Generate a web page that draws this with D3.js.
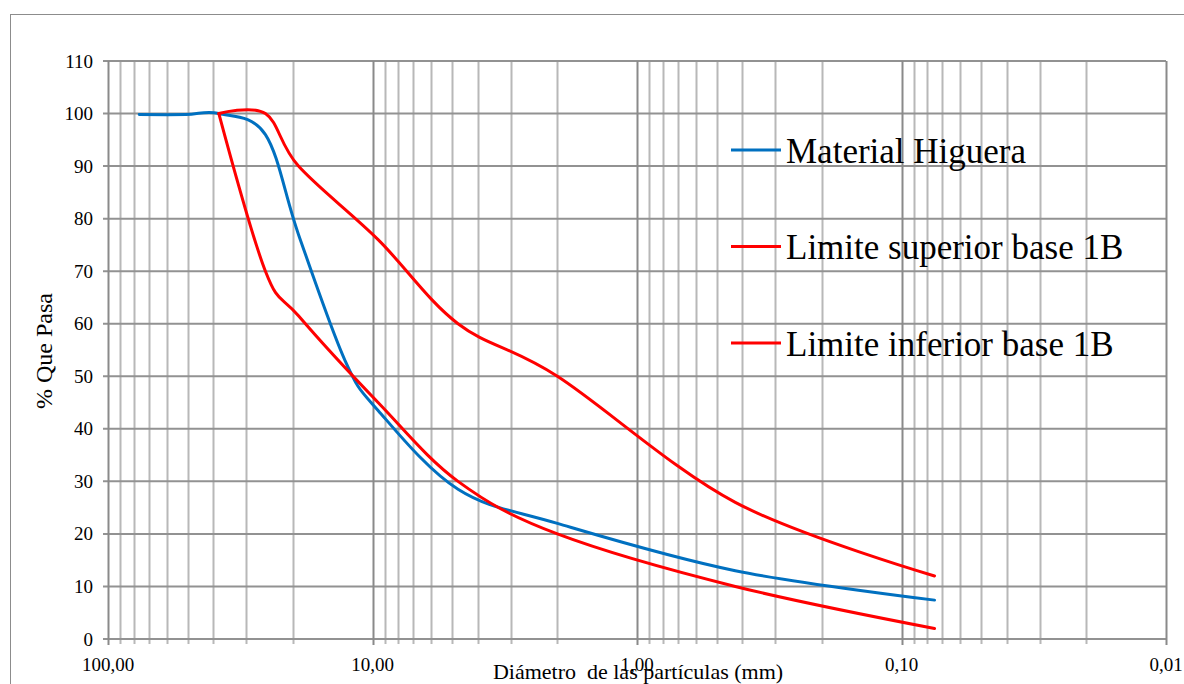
<!DOCTYPE html>
<html>
<head>
<meta charset="utf-8">
<script src="https://cdn.jsdelivr.net/npm/d3@7"></script>
<style>
  html, body { margin: 0; padding: 0; background: #fff; }
  svg { display: block; }
  svg text { font-family: "Liberation Serif", "DejaVu Serif", serif; }
</style>
</head>
<body>
<svg id="chart" width="1184" height="684"></svg>
<script>
// ---- data ----
const sieveSizes = [76.2, 50.8, 38.1, 25.4, 19.05, 12.7, 9.525, 4.75, 2.0, 0.425, 0.075];
const materialHiguera = [99.8, 99.8, 100, 96, 77, 53, 43.5, 28.5, 22, 13, 7.4];
const limiteSuperior = [null, null, 100, 100, 90, null, 76, 60, 50, 26, 12];
const limiteInferior = [null, null, 100, 70, 61.5, null, 45, 30, 20, 10, 2];
const seriesNames = ["Material Higuera", "Limite superior base 1B", "Limite inferior base 1B"];
const seriesColors = ["#0070C0", "#FF0000", "#FF0000"];
const xTickLabels = ["100,00", "10,00", "1,00", "0,10", "0,01"];
const xTickValues = [100, 10, 1, 0.1, 0.01];
const yTickValues = [0, 10, 20, 30, 40, 50, 60, 70, 80, 90, 100, 110];
const xTitle = "Diámetro  de las partículas (mm)";
const yTitle = "% Que Pasa";

// ---- layout ----
const svg = d3.select("#chart");
const plotL = 108, plotR = 1166, plotT = 61, plotB = 639;
const x = d3.scaleLog().domain([100, 0.01]).range([plotL, plotR]);
const y = d3.scaleLinear().domain([0, 110]).range([plotB, plotT]);

// outer frame (extends beyond the window on right/bottom)
svg.append("rect").attr("x", 10.5).attr("y", 14.5).attr("width", 1300).attr("height", 800)
  .attr("fill", "none").attr("stroke", "#8c8c8c").attr("stroke-width", 1);

// vertical grid values
const gridVals = [];
[0.01, 0.1, 1, 10].forEach(d => { for (let k = 1; k <= 9; k++) gridVals.push(+(k * d).toPrecision(3)); });
gridVals.push(100);
const isMajor = v => xTickValues.includes(v);

const g = svg.append("g");
// minor vertical
g.selectAll("line.vminor").data(gridVals.filter(v => !isMajor(v))).join("line")
  .attr("x1", d => Math.round(x(d)) + 0.5).attr("x2", d => Math.round(x(d)) + 0.5)
  .attr("y1", plotT).attr("y2", plotB + 5)
  .attr("stroke", "#b8b8b8").attr("stroke-width", 2);
// horizontal grid
g.selectAll("line.h").data(yTickValues).join("line")
  .attr("x1", plotL - 5).attr("x2", plotR)
  .attr("y1", d => y(d)).attr("y2", d => y(d))
  .attr("stroke", "#929292").attr("stroke-width", 2);
// major vertical
g.selectAll("line.vmajor").data(xTickValues).join("line")
  .attr("x1", d => Math.round(x(d)) + 0.5).attr("x2", d => Math.round(x(d)) + 0.5)
  .attr("y1", plotT).attr("y2", plotB + 6)
  .attr("stroke", "#8a8a8a").attr("stroke-width", 2);

// y tick labels
g.selectAll("text.ylab").data(yTickValues).join("text")
  .attr("x", 93).attr("y", d => y(d) + 6.5)
  .attr("text-anchor", "end").attr("font-size", 19)
  .attr("fill", "#000").text(d => d);

// x tick labels
g.selectAll("text.xlab").data(xTickValues).join("text")
  .attr("x", d => x(d)).attr("y", 671)
  .attr("text-anchor", "middle").attr("font-size", 19)
  .attr("fill", "#000").text((d, i) => xTickLabels[i]);

// axis titles
svg.append("text").attr("x", 638).attr("y", 679)
  .attr("text-anchor", "middle").attr("font-size", 22)
  .attr("fill", "#000").style("white-space", "pre").text(xTitle);
svg.append("text").attr("transform", "translate(52,351) rotate(-90)")
  .attr("text-anchor", "middle").attr("font-size", 24)
  .attr("fill", "#000").text(yTitle);

// series
const seriesData = [materialHiguera, limiteSuperior, limiteInferior];
const line = d3.line().x(d => x(d[0])).y(d => y(d[1])).curve(d3.curveCardinal.tension(0));
seriesData.forEach((vals, i) => {
  const pts = sieveSizes.map((s, j) => [s, vals[j]]).filter(p => p[1] !== null);
  svg.append("path").attr("d", line(pts)).attr("fill", "none")
    .attr("stroke", seriesColors[i]).attr("stroke-width", 3)
    .attr("stroke-linejoin", "round").attr("stroke-linecap", "round");
});

// legend
const legendY = [150, 246.5, 343];
seriesNames.forEach((name, i) => {
  svg.append("line").attr("x1", 731).attr("x2", 781)
    .attr("y1", legendY[i]).attr("y2", legendY[i])
    .attr("stroke", seriesColors[i]).attr("stroke-width", 3);
  svg.append("text").attr("x", 786).attr("y", legendY[i] + 12.5)
    .attr("font-size", 35).attr("fill", "#000").text(name);
});
</script>
</body>
</html>
